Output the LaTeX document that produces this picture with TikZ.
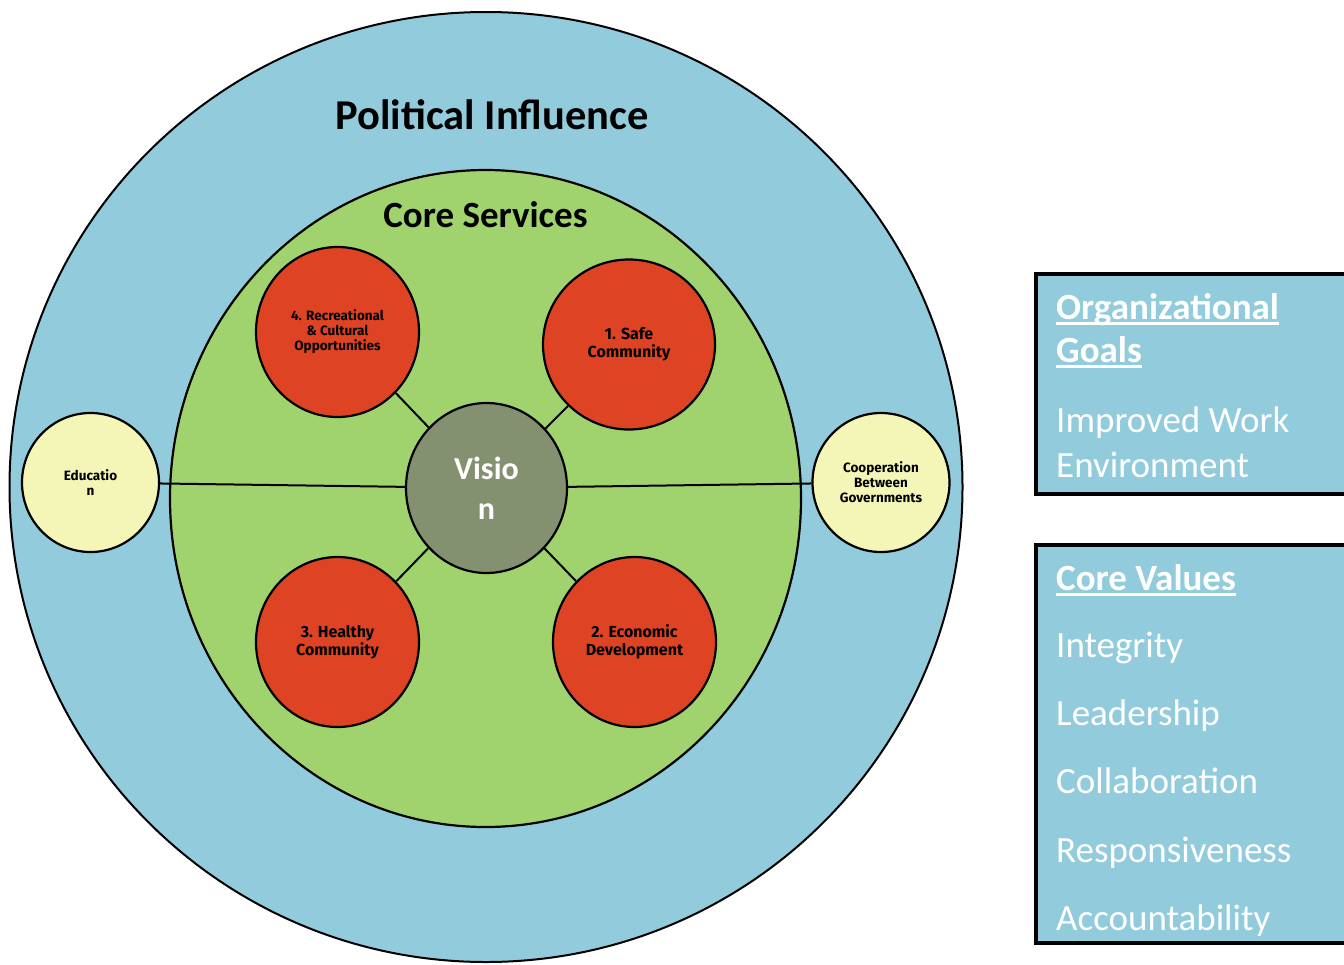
\documentclass[tikz,border=0pt]{standalone}
\usepackage{fontspec}
\setmainfont{Carlito}
\newfontfamily\labelfont{Fira Sans}
\usetikzlibrary{shapes.geometric,calc}
\definecolor{outerblue}{RGB}{146,204,220}
\definecolor{coregreen}{RGB}{160,211,110}
\definecolor{svcred}{RGB}{222,67,36}
\definecolor{visgrey}{RGB}{132,145,113}
\definecolor{paleyellow}{RGB}{244,246,184}
\begin{document}
\begin{tikzpicture}[x=1pt,y=-1pt,
  ring/.style={ellipse, draw=black, inner sep=0pt, outer sep=0pt},
  svc/.style={ellipse, draw=black, line width=2.2pt, fill=svcred, minimum width=163pt, minimum height=170pt, align=center, inner sep=0pt, font=\labelfont\bfseries\fontsize{16}{18}\selectfont},
  side/.style={ellipse, draw=black, line width=2.2pt, fill=paleyellow, minimum width=137pt, minimum height=139pt, align=center, inner sep=0pt, font=\labelfont\bfseries\fontsize{13.5}{15}\selectfont},
  link/.style={draw=black, line width=2pt},
  title/.style={font=\bfseries\fontsize{42.5}{48}\selectfont, inner sep=0pt},
  box/.style={draw=black, line width=3.5pt, fill=outerblue, anchor=north west, inner sep=0pt},
  boxtext/.style={text=white, anchor=base west, inner sep=0pt, font=\fontsize{37}{44}\selectfont},
  uline/.style={draw=white, line width=3pt}
]
\useasboundingbox (0,0) rectangle (1344,964);
\clip (0,0) rectangle (1344,964);

% rings
\node[ring, line width=2pt, fill=outerblue, minimum width=953pt, minimum height=950pt] (outer) at (486,487) {};
\node[ring, line width=2.2pt, fill=coregreen, minimum width=631pt, minimum height=657pt] (core) at (485.5,498.5) {};

\node[title, anchor=base] (pol) at (492,129) {Political Influence};
\node[title, anchor=base, font=\bfseries\fontsize{37}{44}\selectfont] (cs) at (485.5,227) {Core Services};

% centre and services
\node[ellipse, draw=black, line width=2.2pt, fill=visgrey, minimum width=161pt, minimum height=170pt, inner sep=0pt, align=center, text=white, font=\bfseries\fontsize{32}{40}\selectfont] (vis) at (486.5,488) {Visio\\n};

\node[svc, font=\labelfont\bfseries\fontsize{13.5}{15}\selectfont] (s4) at (337.5,332) {4. Recreational\\\& Cultural\\Opportunities};
\node[svc, minimum width=172pt] (s1) at (629,344.5) {1. Safe\\Community};
\node[svc] (s3) at (337.5,642) {3. Healthy\\Community};
\node[svc] (s2) at (634.5,642) {2. Economic\\Development};

\node[side] (edu) at (90.5,482.5) {Educatio\\n};
\node[side] (coop) at (881,482.5) {Cooperation\\Between\\Governments};

\draw[link] (s4) -- (vis);
\draw[link] (s1) -- (vis);
\draw[link] (s3) -- (vis);
\draw[link] (s2) -- (vis);
\draw[link] (edu) -- (vis);
\draw[link] (vis) -- (coop);

% right boxes
\node[box, minimum width=330pt, minimum height=220pt] (goalsbox) at (1034,272) {};
\node[box, minimum width=330pt, minimum height=398pt] (valuesbox) at (1034,543) {};

\node[boxtext, font=\bfseries\fontsize{37}{44}\selectfont] (org) at (1056,319) {Organizational};
\node[boxtext, font=\bfseries\fontsize{37}{44}\selectfont] (goals) at (1056,362) {Goals};
\draw[uline] ($(org.base west)+(0,4.5)$) -- ($(org.base east)+(0,4.5)$);
\draw[uline] ($(goals.base west)+(0,4.5)$) -- ($(goals.base east)+(0,4.5)$);
\node[boxtext] (imp) at (1056,432) {Improved Work};
\node[boxtext] (env) at (1056,477) {Environment};

\node[boxtext, font=\bfseries\fontsize{37}{44}\selectfont] (cv) at (1056,590) {Core Values};
\draw[uline] ($(cv.base west)+(0,4.5)$) -- ($(cv.base east)+(0,4.5)$);
\node[boxtext] (integ) at (1056,657) {Integrity};
\node[boxtext] (lead) at (1056,725) {Leadership};
\node[boxtext] (collab) at (1056,793) {Collaboration};
\node[boxtext] (resp) at (1056,862) {Responsiveness};
\node[boxtext] (acc) at (1056,930) {Accountability};
\end{tikzpicture}
\end{document}
